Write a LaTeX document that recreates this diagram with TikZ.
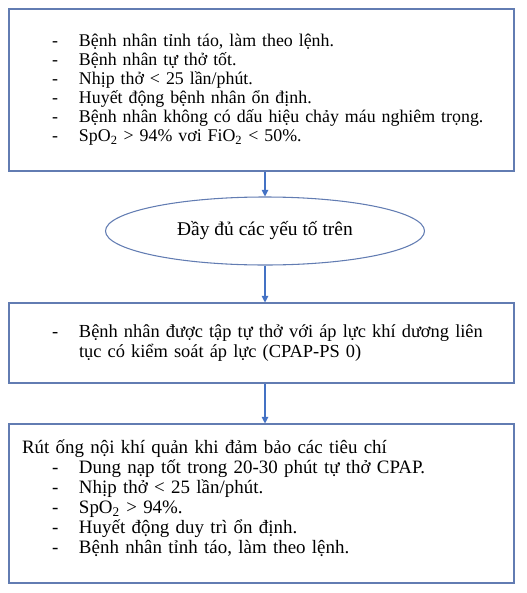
\documentclass[tikz,border=0pt]{standalone}
\usepackage{fontspec}
\setmainfont{Liberation Serif}
\usetikzlibrary{shapes.geometric,arrows.meta}
\definecolor{boxBlue}{RGB}{98,124,178}
\definecolor{arrowBlue}{RGB}{68,114,196}
\newcommand{\itm}[1]{\hspace*{22.5pt}\makebox[20.25pt][l]{-}#1}

\begin{document}
\begin{tikzpicture}[x = 0.75pt, y = -0.75pt,
  box/.style = {draw = boxBlue, line width = 0.8pt, rectangle,
    minimum width = 378.75pt, text width = 359.25pt, inner xsep = 9.75pt,
    align = left, font = \fontsize{13.4}{14.2}\selectfont},
  oval/.style = {draw = boxBlue, line width = 0.8pt, ellipse,
    minimum width = 239.25pt, minimum height = 51pt, inner sep = 0pt,
    font = \fontsize{14.6}{15}\selectfont},
  link/.style = {draw = arrowBlue, line width = 0.8pt,
    -{Triangle[width = 5pt, length = 5pt]}}]
  \useasboundingbox (0,0) rectangle (527,593);

  \node[box, minimum height = 121.5pt] (critBox) at (261.5,90)
    {\itm{Bệnh nhân tỉnh táo, làm theo lệnh.}\\
     \itm{Bệnh nhân tự thở tốt.}\\
     \itm{Nhịp thở < 25 lần/phút.}\\
     \itm{Huyết động bệnh nhân ổn định.}\\
     \itm{Bệnh nhân không có dấu hiệu chảy máu nghiêm trọng.}\\
     \itm{SpO\textsubscript{2} > 94\% vơi FiO\textsubscript{2} < 50\%.}};

  \node[oval] (fullEll) at (265,231) {Đầy đủ các yếu tố trên};

  \node[box, minimum height = 60pt, font = \fontsize{13.8}{15}\selectfont]
    (cpapBox) at (261.5,343)
    {\itm{Bệnh nhân được tập tự thở với áp lực khí dương liên}\\
     \hspace*{42.75pt}tục có kiểm soát áp lực (CPAP-PS 0)};

  \node[box, minimum height = 119.25pt, font = \fontsize{14.2}{15}\selectfont]
    (extubBox) at (261.5,503.5)
    {Rút ống nội khí quản khi đảm bảo các tiêu chí\\
     \itm{Dung nạp tốt trong 20-30 phút tự thở CPAP.}\\
     \itm{Nhịp thở < 25 lần/phút.}\\
     \itm{SpO\textsubscript{2} > 94\%.}\\
     \itm{Huyết động duy trì ổn định.}\\
     \itm{Bệnh nhân tỉnh táo, làm theo lệnh.}\\[-4.5pt]\mbox{}};

  \draw[link] (critBox.south -| fullEll.north) -- (fullEll.north);
  \draw[link] (fullEll.south) -- (fullEll.south |- cpapBox.north);
  \draw[link] (cpapBox.south -| fullEll.south) -- (fullEll.south |- extubBox.north);
\end{tikzpicture}
\end{document}
